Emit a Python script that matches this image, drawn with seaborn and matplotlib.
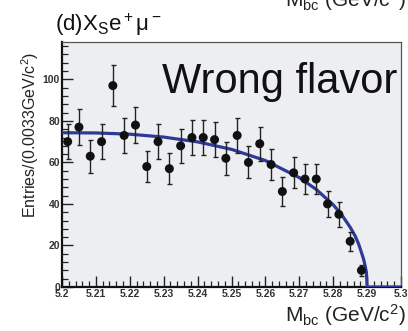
import numpy as np
import pandas as pd
import matplotlib
matplotlib.use("Agg")
import matplotlib.pyplot as plt
import seaborn as sns
from matplotlib.ticker import MultipleLocator, FixedLocator

# ---- data ----
mbc_centers = [5.20167, 5.20500, 5.20833, 5.21167, 5.21500, 5.21833, 5.22167,
               5.22500, 5.22833, 5.23167, 5.23500, 5.23833, 5.24167, 5.24500,
               5.24833, 5.25167, 5.25500, 5.25833, 5.26167, 5.26500, 5.26833,
               5.27167, 5.27500, 5.27833, 5.28167, 5.28500, 5.28833]
entries = [70, 77, 63, 70, 97, 73, 78, 58, 70, 57, 68, 72, 72, 71, 62, 73, 60,
           69, 59, 46, 55, 52, 52, 40, 35, 22, 8]
entry_err = [8.4, 8.8, 7.9, 8.4, 9.8, 8.5, 8.8, 7.6, 8.4, 7.5, 8.2, 8.5, 8.5,
             8.4, 7.9, 8.5, 7.7, 8.3, 7.7, 6.8, 7.4, 7.2, 7.2, 6.3, 5.9, 4.7, 2.8]

fit_x = [5.200, 5.210, 5.220, 5.230, 5.240, 5.250, 5.260, 5.270, 5.275, 5.280,
         5.2825, 5.285, 5.2865, 5.2875, 5.2885, 5.289, 5.2895, 5.2898, 5.290, 5.300]
fit_y = [74.3, 74.2, 73.6, 72.2, 69.9, 66.3, 60.9, 52.7, 47.0, 39.6,
         34.8, 28.8, 24.5, 20.7, 15.8, 13.2, 9.6, 7.0, 0.0, 0.0]

x_ticks = [5.20, 5.21, 5.22, 5.23, 5.24, 5.25, 5.26, 5.27, 5.28, 5.29, 5.30]
x_ticklabels = ["5.2", "5.21", "5.22", "5.23", "5.24", "5.25", "5.26", "5.27",
                "5.28", "5.29", "5.3"]
y_ticks = [0, 20, 40, 60, 80, 100]

df_pts = pd.DataFrame({"mbc": mbc_centers, "entries": entries, "err": entry_err})
df_fit = pd.DataFrame({"mbc": fit_x, "fit": fit_y})

# ---- style ----
sns.set_theme(style="ticks")
plt.rcParams["font.family"] = ["Liberation Sans", "DejaVu Sans"]
plt.rcParams["mathtext.fontset"] = "custom"
plt.rcParams["mathtext.rm"] = "Liberation Sans"
plt.rcParams["mathtext.it"] = "Liberation Sans:italic"
plt.rcParams["mathtext.bf"] = "Liberation Sans:bold"

W, H = 408, 331
fig = plt.figure(figsize=(W / 100, H / 100), dpi=100)
ax = fig.add_axes([62 / W, 1 - 287 / H, (401 - 62) / W, (287 - 42) / H])
ax.set_facecolor("#eceef1")

sns.lineplot(data=df_fit, x="mbc", y="fit", ax=ax, color="#2e3a98",
             linewidth=2.3, zorder=3)
ax.errorbar(df_pts["mbc"], df_pts["entries"], yerr=df_pts["err"], fmt="none",
            ecolor="#222222", elinewidth=1.0, capsize=1.8, capthick=1.0, zorder=4)
sns.scatterplot(data=df_pts, x="mbc", y="entries", ax=ax, color="#111111",
                s=42, edgecolor="none", zorder=5)

ax.set_xlim(5.2, 5.3)
ax.set_ylim(0, 118)
ax.set_xlabel("")
ax.set_ylabel("")

ax.xaxis.set_major_locator(FixedLocator(x_ticks))
ax.set_xticklabels(x_ticklabels)
ax.xaxis.set_minor_locator(MultipleLocator(0.002))
ax.yaxis.set_major_locator(FixedLocator(y_ticks))
ax.yaxis.set_minor_locator(MultipleLocator(4))

ax.tick_params(axis="both", which="major", direction="in", length=8, width=1.0,
               color="#222222", labelsize=7.5, labelcolor="#333333", pad=1.5)
ax.tick_params(axis="both", which="minor", direction="in", length=4, width=0.9,
               color="#222222")
for lab in ax.get_xticklabels() + ax.get_yticklabels():
    lab.set_fontweight("bold")

for side in ["left", "bottom"]:
    ax.spines[side].set_linewidth(1.6)
    ax.spines[side].set_color("#111111")
for side in ["top", "right"]:
    ax.spines[side].set_visible(True)
    ax.spines[side].set_linewidth(0.9)
    ax.spines[side].set_color("#555555")

# ---- text ----
fig.text(55 / W, 1 - 31 / H, "(d)X$_\\mathrm{S}$e$^+$μ$^-$", fontsize=16,
         ha="left", va="baseline", color="#111111")
fig.text(162 / W, 1 - 93 / H, "Wrong flavor", fontsize=30, ha="left",
         va="baseline", color="#111111")
fig.text(30 / W, 1 - 52 / H, "Entries/(0.0033GeV/c$^2$)", fontsize=11.5,
         rotation=90, ha="center", va="top", color="#222222")
fig.text(406 / W, 1 - 322 / H, "M$_\\mathrm{bc}$ (GeV/c$^2$)", fontsize=15,
         ha="right", va="baseline", color="#222222")
# clipped axis title of the panel above
fig.text(406 / W, 1 - 7 / H, "M$_\\mathrm{bc}$ (GeV/c$^2$)", fontsize=15,
         ha="right", va="baseline", color="#222222")

fig.savefig("out.png", dpi=100)
